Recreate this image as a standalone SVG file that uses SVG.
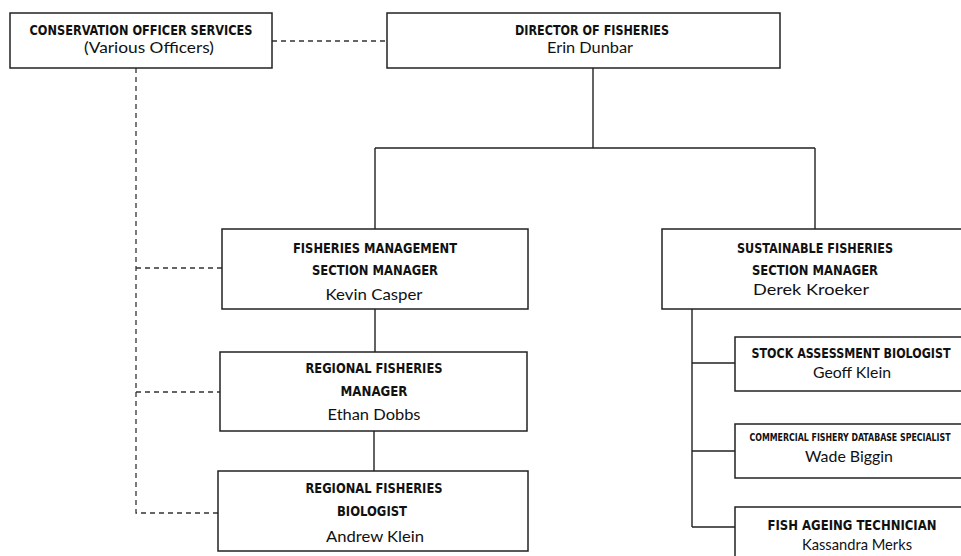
<svg xmlns="http://www.w3.org/2000/svg" width="961" height="556" viewBox="0 0 961 556">
<style>
.box{fill:#fff;stroke:#222;stroke-width:1.5}
.ln{fill:none;stroke:#222;stroke-width:1.4}
.dl{fill:none;stroke:#333;stroke-width:1.3;stroke-dasharray:5 4}
.t{font-family:"DejaVu Sans Condensed","DejaVu Sans",sans-serif;font-stretch:condensed;font-weight:bold;font-size:14.5px;fill:#111;text-anchor:middle}
.s{font-size:10px}
.n{font-family:"Lato","Noto Sans",sans-serif;font-size:15px;fill:#111;text-anchor:middle}
</style>
<rect width="961" height="556" fill="#fff"/>
<g id="connectors">
<path class="dl" d="M272 41H387"/>
<path class="dl" d="M136 68V513H218M136 268H222M136 392H220"/>
<path class="ln" d="M593 68V148M375 148H815M375 148V229M815 148V229"/>
<path class="ln" d="M375 309V352M374 431V471"/>
<path class="ln" d="M692 309V527M692 363H735M692 451H735M692 527H735"/>
</g>
<g id="cos">
<rect class="box" x="10" y="13" width="262" height="55"/>
<text class="t" x="141" y="35" textLength="223" lengthAdjust="spacingAndGlyphs">CONSERVATION OFFICER SERVICES</text>
<text class="n" x="149" y="53" textLength="130" lengthAdjust="spacingAndGlyphs">(Various Officers)</text>
</g>
<g id="director">
<rect class="box" x="387" y="13" width="393" height="55"/>
<text class="t" x="592" y="35" textLength="154" lengthAdjust="spacingAndGlyphs">DIRECTOR OF FISHERIES</text>
<text class="n" x="590" y="53" textLength="86" lengthAdjust="spacingAndGlyphs">Erin Dunbar</text>
</g>
<g id="fm">
<rect class="box" x="222" y="229" width="306" height="80"/>
<text class="t" x="375" y="253" textLength="164" lengthAdjust="spacingAndGlyphs">FISHERIES MANAGEMENT</text>
<text class="t" x="375" y="275" textLength="126" lengthAdjust="spacingAndGlyphs">SECTION MANAGER</text>
<text class="n" x="374" y="300" textLength="97" lengthAdjust="spacingAndGlyphs">Kevin Casper</text>
</g>
<g id="sf">
<rect class="box" x="662" y="229" width="310" height="80"/>
<text class="t" x="815" y="253" textLength="156" lengthAdjust="spacingAndGlyphs">SUSTAINABLE FISHERIES</text>
<text class="t" x="815" y="275" textLength="126" lengthAdjust="spacingAndGlyphs">SECTION MANAGER</text>
<text class="n" x="811" y="295" textLength="116" lengthAdjust="spacingAndGlyphs">Derek Kroeker</text>
</g>
<g id="rfm">
<rect class="box" x="220" y="352" width="307" height="79"/>
<text class="t" x="374" y="373" textLength="137" lengthAdjust="spacingAndGlyphs">REGIONAL FISHERIES</text>
<text class="t" x="374" y="396" textLength="67" lengthAdjust="spacingAndGlyphs">MANAGER</text>
<text class="n" x="374" y="420" textLength="93" lengthAdjust="spacingAndGlyphs">Ethan Dobbs</text>
</g>
<g id="rfb">
<rect class="box" x="218" y="471" width="310" height="80"/>
<text class="t" x="374" y="493" textLength="137" lengthAdjust="spacingAndGlyphs">REGIONAL FISHERIES</text>
<text class="t" x="372" y="516" textLength="70" lengthAdjust="spacingAndGlyphs">BIOLOGIST</text>
<text class="n" x="375" y="542" textLength="98" lengthAdjust="spacingAndGlyphs">Andrew Klein</text>
</g>
<g id="sab">
<rect class="box" x="735" y="337" width="235" height="54"/>
<text class="t" x="851" y="358" textLength="199" lengthAdjust="spacingAndGlyphs">STOCK ASSESSMENT BIOLOGIST</text>
<text class="n" x="852" y="378" textLength="78" lengthAdjust="spacingAndGlyphs">Geoff Klein</text>
</g>
<g id="cfds">
<rect class="box" x="735" y="424" width="235" height="54"/>
<text class="t s" x="850" y="441" textLength="201" lengthAdjust="spacingAndGlyphs">COMMERCIAL FISHERY DATABASE SPECIALIST</text>
<text class="n" x="849" y="462" textLength="88" lengthAdjust="spacingAndGlyphs">Wade Biggin</text>
</g>
<g id="fat">
<rect class="box" x="735" y="507" width="235" height="60"/>
<text class="t" x="852" y="530" textLength="169" lengthAdjust="spacingAndGlyphs">FISH AGEING TECHNICIAN</text>
<text class="n" x="857" y="550" textLength="110" lengthAdjust="spacingAndGlyphs">Kassandra Merks</text>
</g>
</svg>
